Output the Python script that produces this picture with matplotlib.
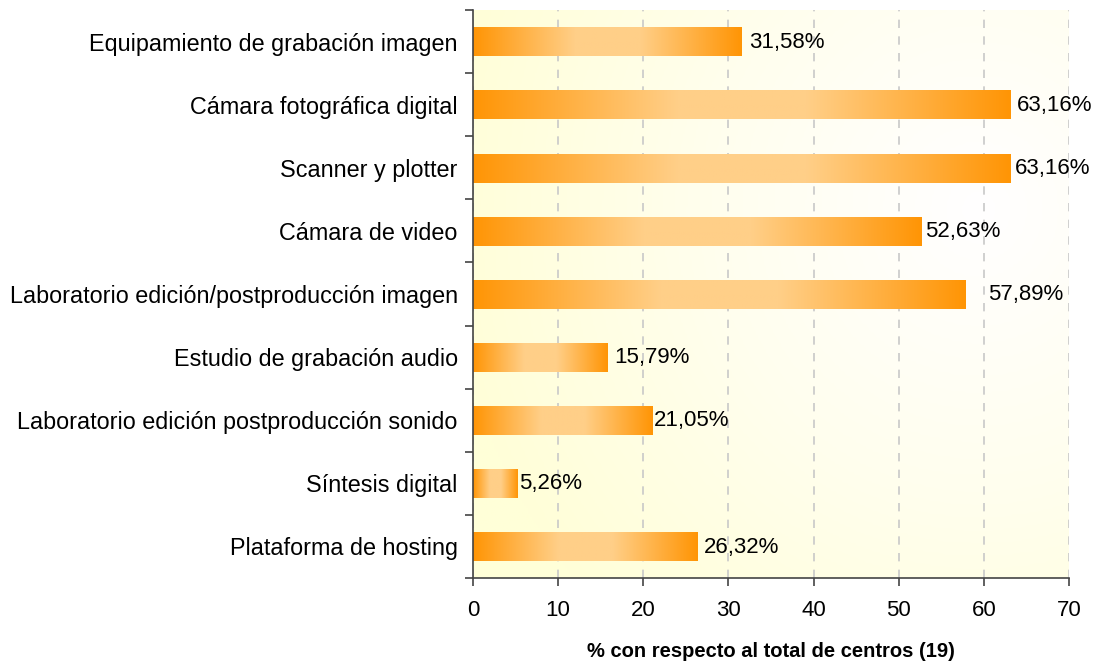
import numpy as np
import matplotlib
matplotlib.use("Agg")
import matplotlib.pyplot as plt
from matplotlib.colors import LinearSegmentedColormap

categories = [
    "Equipamiento de grabación imagen",
    "Cámara fotográfica digital",
    "Scanner y plotter",
    "Cámara de video",
    "Laboratorio edición/postproducción imagen",
    "Estudio de grabación audio",
    "Laboratorio edición postproducción sonido",
    "Síntesis digital",
    "Plataforma de hosting",
]
values = [31.58, 63.16, 63.16, 52.63, 57.89, 15.79, 21.05, 5.26, 26.32]
value_labels = ["31,58%", "63,16%", "63,16%", "52,63%", "57,89%", "15,79%", "21,05%", "5,26%", "26,32%"]
label_offsets = [0.8, 0.7, 0.45, 0.45, 2.6, 0.8, 0.25, 0.12, 0.8]
xticks = [0, 10, 20, 30, 40, 50, 60, 70]
xlabel = "% con respecto al total de centros (19)"

plt.rcParams['font.family'] = ['Liberation Sans', 'DejaVu Sans']

fig = plt.figure(figsize=(10.98, 6.64), dpi=100)
ax = fig.add_axes([473/1098, 1-578/664, (1069-473)/1098, (578-10)/664])

n = len(categories)

# background gradient
gx = np.linspace(0, 1, 300)
gy = np.linspace(0, 1, 200)
GX, GY = np.meshgrid(gx, gy)
d = np.sqrt(((GX - 0.85) / 0.9) ** 2 + ((GY - 0.35) / 1.0) ** 2)
d = np.clip(d, 0, 1)
bg_cmap = LinearSegmentedColormap.from_list("bg", ["#FFFFFF", "#FFFEEE", "#FFFFD8"])
ax.imshow(d, extent=[0, 70, n - 0.5, -0.5], aspect="auto", cmap=bg_cmap,
          vmin=0, vmax=1, zorder=0, interpolation="bilinear")

ax.set_xticks(xticks)
ax.grid(axis="x", color="#c8c8c8", linestyle=(0, (5, 5)), linewidth=1.2, zorder=1)

bar_cmap = LinearSegmentedColormap.from_list(
    "bar", [(0, "#FF9505"), (0.38, "#FFCF88"), (0.62, "#FFCF88"), (1, "#FF9505")])
grad = np.linspace(0, 1, 256).reshape(1, -1)
h = 0.45
for i, (v, lab, off) in enumerate(zip(values, value_labels, label_offsets)):
    ax.imshow(grad, extent=[0, v, i + h / 2 + 0.01, i - h / 2 + 0.01], aspect="auto", cmap=bar_cmap,
              zorder=2, interpolation="bilinear")
    ax.text(v + off, i + 0.01, lab, va="center", ha="left", fontsize=16, zorder=3)

ax.set_xlim(0, 70)
ax.set_ylim(n - 0.5, -0.5)

ax.set_yticks(range(n))
ax.set_yticklabels(categories, fontsize=16.8)
ax.tick_params(axis="y", length=0, pad=11)
ax.set_yticks(np.arange(-0.5, n, 1), minor=True)
ax.tick_params(axis="y", which="minor", length=6, width=1.2, color="#444444")
ax.tick_params(axis="x", length=6, width=1.2, color="#444444", labelsize=16, pad=10)

for s in ["top", "right"]:
    ax.spines[s].set_visible(False)
for s in ["left", "bottom"]:
    ax.spines[s].set_color("#444444")
    ax.spines[s].set_linewidth(1.2)

ax.set_xlabel(xlabel, fontsize=14.5, fontweight="bold", labelpad=15)

fig.savefig("out.png", dpi=100)
